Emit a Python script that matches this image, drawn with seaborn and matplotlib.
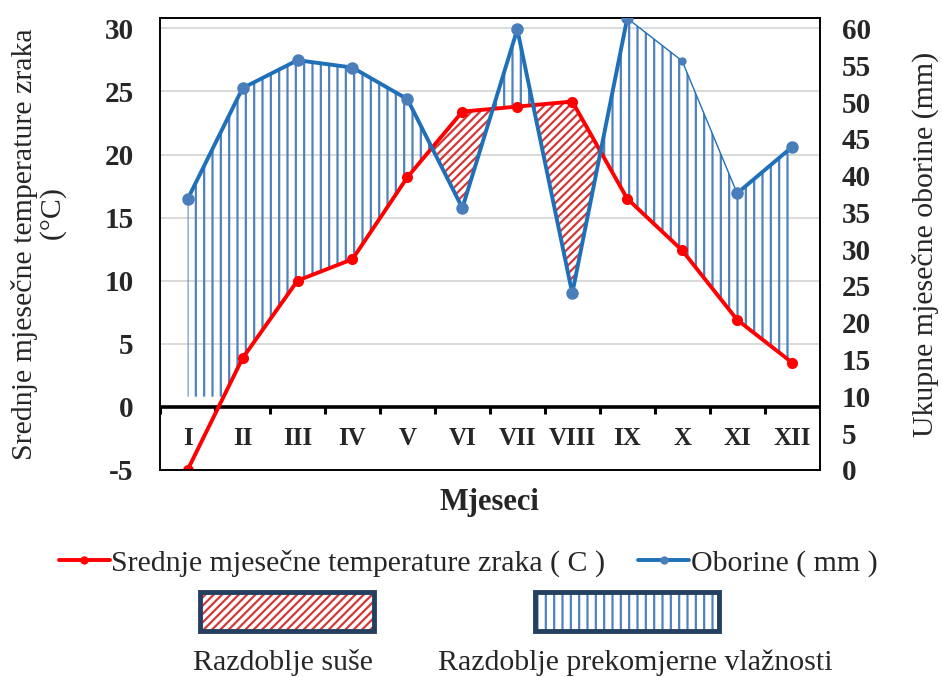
import numpy as np
import pandas as pd
import matplotlib
matplotlib.use("Agg")
import matplotlib.pyplot as plt
from matplotlib.patches import Rectangle
from matplotlib.lines import Line2D
import seaborn as sns

months = ['I', 'II', 'III', 'IV', 'V', 'VI', 'VII', 'VIII', 'IX', 'X', 'XI', 'XII']
temperature = [-5.0, 3.85, 10.0, 11.7, 18.2, 23.4, 23.8, 24.2, 16.5, 12.4, 6.9, 3.5]
precipitation = [36.8, 51.9, 55.7, 54.7, 50.4, 35.6, 59.9, 24.0, 61.4, 55.6, 37.6, 43.9]
temp_ticks = [-5, 0, 5, 10, 15, 20, 25, 30]
prec_ticks = list(range(0, 65, 5))

sns.set_style('white')
plt.rcParams['font.family'] = ['Liberation Serif', 'DejaVu Serif']
plt.rcParams['hatch.linewidth'] = 1.6

RED = '#FF0000'
BLUE = '#1F70B8'
BLUE_MK = '#4A7EBB'
HATCH_BLUE = '#4F81BD'
HATCH_RED = '#D23A3A'
NAVY = '#243F60'

df = pd.DataFrame({'x': np.arange(len(months)), 'temp': temperature, 'prec': precipitation})

fig = plt.figure(figsize=(9.42, 6.77), dpi=100)
ax = fig.add_axes([0.170, 0.306, 0.700, 0.667])
ax2 = ax.twinx()

t_lim = (-5, 30.8)
p_lim = (0, 61.4)
ax.set_ylim(*t_lim)
ax2.set_ylim(*p_lim)
ax.set_xlim(-0.5, len(months) - 0.5)

# precipitation expressed on the temperature axis
scale = (t_lim[1] - t_lim[0]) / (p_lim[1] - p_lim[0])
xs = np.linspace(0, len(months) - 1, 2201)
t_i = np.interp(xs, df['x'], df['temp'])
p_i = t_lim[0] + (np.interp(xs, df['x'], df['prec']) - p_lim[0]) * scale
floor = np.maximum(t_i, 0.8)

ax.fill_between(xs, p_i, floor, where=p_i > floor, interpolate=True,
                facecolor='none', edgecolor=HATCH_BLUE, hatch='||', linewidth=0, zorder=1)
ax.fill_between(xs, t_i, p_i, where=t_i > p_i, interpolate=True,
                facecolor='none', edgecolor=HATCH_RED, hatch='////', linewidth=0, zorder=1)

for t in temp_ticks[2:]:
    ax.axhline(t, color='#D9D9D9', lw=1.4, zorder=0)
ax.axhline(0, color='black', lw=2.6, zorder=3)
for b in np.arange(-0.5, len(months), 1.0):
    ax.plot([b, b], [0, -0.55], color='black', lw=2.2, zorder=3, solid_capstyle='butt')

sns.lineplot(data=df, x='x', y='temp', ax=ax, color=RED, lw=2.8, marker='o',
             markersize=8, markeredgewidth=0, zorder=4)
# the IX-XI stretch is drawn with a thin stroke in the original
sns.lineplot(data=df.iloc[8:11], x='x', y='prec', ax=ax2, color=BLUE, lw=1.0, marker='o',
             markersize=6, markerfacecolor=BLUE_MK, markeredgewidth=0, zorder=5)
for part in (df.iloc[:9], df.iloc[10:]):
    sns.lineplot(data=part, x='x', y='prec', ax=ax2, color=BLUE, lw=2.8, marker='o',
                 markersize=9, markerfacecolor=BLUE_MK, markeredgewidth=0, zorder=5)
ax2.set_ylim(*p_lim)

for i, m in enumerate(months):
    ax.text(i, -2.5, m, ha='center', va='center', fontsize=18, fontweight='bold')

ax.set_xticks([])
ax.set_yticks(temp_ticks)
ax.set_yticklabels([str(v) for v in temp_ticks], fontsize=21, fontweight='bold')
ax2.set_yticks(prec_ticks)
ax2.set_yticklabels([str(v) for v in prec_ticks], fontsize=21, fontweight='bold')
ax.tick_params(axis='y', length=0, pad=19)
ax2.tick_params(axis='y', length=0, pad=16)

ax.set_xlabel('Mjeseci', fontsize=22, fontweight='bold')
ax.xaxis.set_label_coords(0.5, -0.04)
ax.set_ylabel('Srednje mjesečne temperature zraka\n        (°C)', fontsize=21.5,
              linespacing=1.1)
ax.yaxis.set_label_coords(-0.141, 0.5)
ax2.set_ylabel('Ukupne mjesečne oborine (mm)', fontsize=21.5)
ax2.yaxis.set_label_coords(1.14, 0.5)

for a in (ax, ax2):
    for s in a.spines.values():
        s.set_color('black')
        s.set_linewidth(1.2)

handles = [Line2D([], [], color=RED, lw=2.8, marker='o', markersize=6, markeredgewidth=0),
           Line2D([], [], color=BLUE, lw=2.8, marker='o', markersize=6,
                  markerfacecolor=BLUE_MK, markeredgewidth=0)]
fig.legend(handles, ['Srednje mjesečne temperature zraka ( C )', 'Oborine ( mm )'],
           loc='center', bbox_to_anchor=(0.497, 0.168), ncol=2, frameon=False,
           fontsize=21.5, handlelength=1.7, handletextpad=0.05, columnspacing=1.1)

fig.add_artist(Rectangle((0.212, 0.068), 0.185, 0.058, transform=fig.transFigure,
                         facecolor='white', edgecolor=HATCH_RED, hatch='////', lw=0))
fig.add_artist(Rectangle((0.212, 0.068), 0.185, 0.058, transform=fig.transFigure,
                         facecolor='none', edgecolor=NAVY, lw=3.5))
fig.add_artist(Rectangle((0.568, 0.068), 0.195, 0.058, transform=fig.transFigure,
                         facecolor='white', edgecolor=HATCH_BLUE, hatch='||', lw=0))
fig.add_artist(Rectangle((0.568, 0.068), 0.195, 0.058, transform=fig.transFigure,
                         facecolor='none', edgecolor=NAVY, lw=3.5))
fig.text(0.30, 0.021, 'Razdoblje suše', ha='center', va='center', fontsize=21.5)
fig.text(0.674, 0.021, 'Razdoblje prekomjerne vlažnosti', ha='center', va='center', fontsize=21.5)

fig.savefig('out.png', dpi=100)
